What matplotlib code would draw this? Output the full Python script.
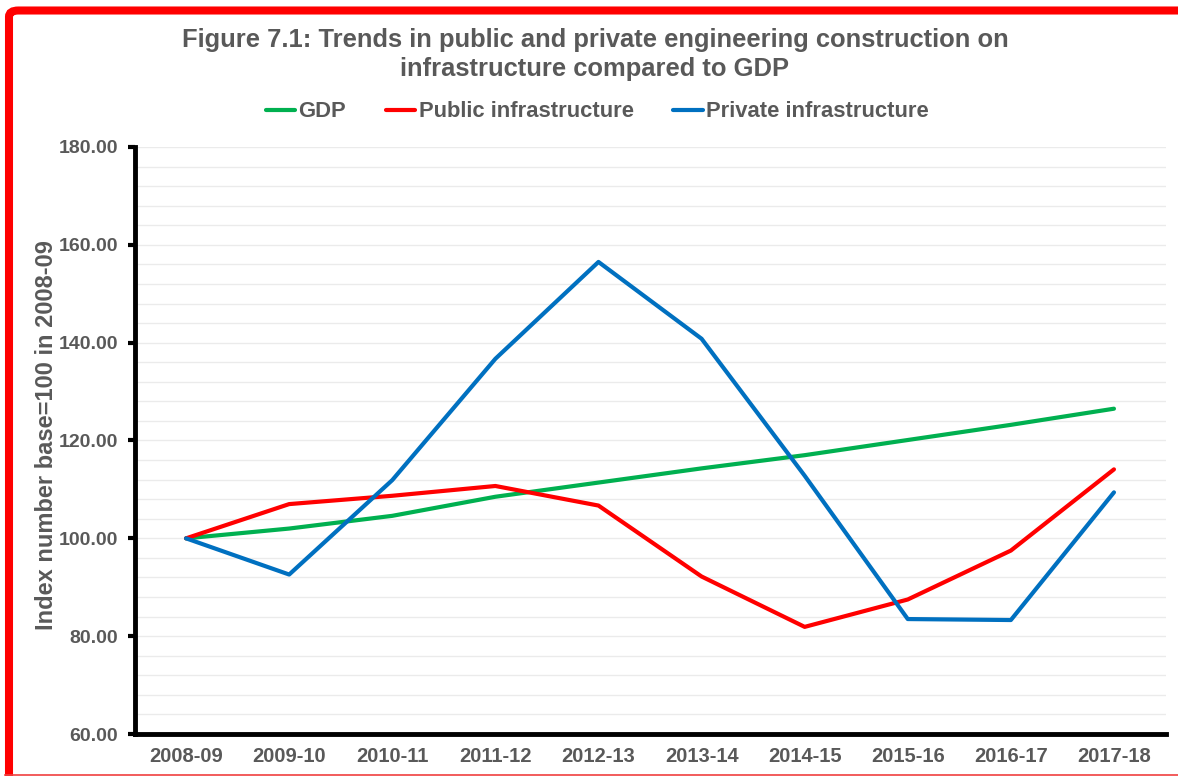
import matplotlib
matplotlib.use('Agg')
import matplotlib.pyplot as plt
from matplotlib.patches import FancyBboxPatch
from matplotlib.lines import Line2D
from matplotlib.ticker import MultipleLocator

years = ['2008-09', '2009-10', '2010-11', '2011-12', '2012-13',
         '2013-14', '2014-15', '2015-16', '2016-17', '2017-18']
gdp = [100.0, 102.0, 104.6, 108.5, 111.4, 114.3, 117.0, 120.1, 123.2, 126.5]
public = [100.0, 107.0, 108.7, 110.7, 106.7, 92.2, 81.9, 87.5, 97.5, 114.1]
private = [100.0, 92.6, 111.9, 136.7, 156.5, 140.8, 112.8, 83.5, 83.3, 109.4]

grey = '#595959'
plt.rcParams['font.family'] = ['Liberation Sans', 'DejaVu Sans']

fig = plt.figure(figsize=(11.78, 7.76), dpi=100)
ax = fig.add_axes([0.1142, 0.0541, 0.8752, 0.7565])

x = list(range(len(years)))
ax.plot(x, gdp, color='#00B050', lw=3, label='GDP', solid_capstyle='round')
ax.plot(x, public, color='#FF0000', lw=3, label='Public infrastructure', solid_capstyle='round')
ax.plot(x, private, color='#0070C0', lw=3, label='Private infrastructure', solid_capstyle='round')

ax.set_xlim(-0.5, len(years) - 0.5)
ax.set_ylim(60, 180)
ax.yaxis.set_major_locator(MultipleLocator(20))
ax.yaxis.set_minor_locator(MultipleLocator(4))
ax.grid(True, which='both', axis='y', color='#EBEBEB', lw=1)
ax.set_axisbelow(True)
ax.set_xticks(x)
ax.set_xticklabels(years)
ax.set_yticklabels(['%.2f' % v for v in ax.get_yticks()])
ax.tick_params(axis='x', length=0, pad=9, labelsize=14.5, labelcolor=grey)
ax.tick_params(axis='y', which='major', length=5, width=3, color='black',
               pad=7, labelsize=14, labelcolor=grey)
ax.tick_params(axis='y', which='minor', length=0)
for lab in ax.get_xticklabels() + ax.get_yticklabels():
    lab.set_fontweight('bold')

for s in ['top', 'right']:
    ax.spines[s].set_visible(False)
for s in ['left', 'bottom']:
    ax.spines[s].set_linewidth(3.5)
    ax.spines[s].set_color('black')

ax.set_ylabel('Index number base=100 in 2008-09', fontsize=17, fontweight='bold',
              color=grey)
ax.yaxis.set_label_coords(-0.074, 0.51)

fig.text(0.505, 0.948, 'Figure 7.1: Trends in public and private engineering construction on',
         ha='center', va='center', fontsize=18.4, fontweight='bold', color=grey)
fig.text(0.505, 0.911, 'infrastructure compared to GDP',
         ha='center', va='center', fontsize=18.4, fontweight='bold', color=grey)

leg = fig.legend(loc='center', bbox_to_anchor=(0.507, 0.856), ncol=3, frameon=False,
                 handlelength=1.35, handletextpad=0.15, columnspacing=1.8,
                 prop={'size': 15.8, 'weight': 'bold'})
for t in leg.get_texts():
    t.set_color(grey)

# red frame: thick on left and top, cut off on the right, thin at the bottom
fig.patches.append(FancyBboxPatch((9 / 1178, -0.05), 1.2, 1 - 10.5 / 776 + 0.05,
                                  boxstyle='round,pad=0,rounding_size=0.008',
                                  transform=fig.transFigure, fill=False,
                                  edgecolor='#FF0000', lw=5.8, figure=fig))
fig.lines.append(Line2D([5 / 1178, 1], [1.2 / 776, 1.2 / 776], transform=fig.transFigure,
                        color='#F04040', lw=1.2, figure=fig))

fig.savefig('out.png', dpi=100, facecolor='white')
